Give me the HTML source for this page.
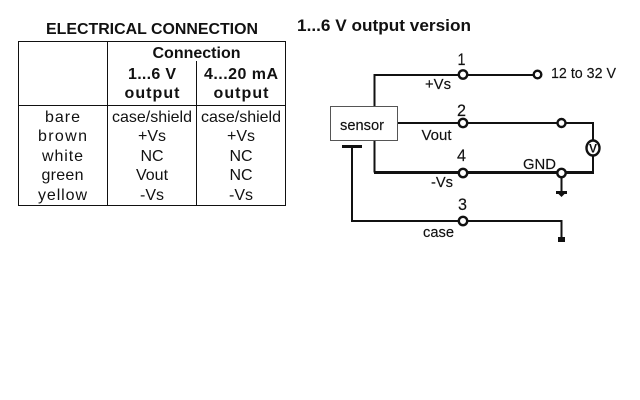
<!DOCTYPE html>
<html><head><meta charset="utf-8"><style>
html,body{margin:0;padding:0;background:#fff;width:640px;height:400px;overflow:hidden}
svg{display:block;position:absolute;left:0;top:0}
text{font-family:"Liberation Sans",sans-serif;fill:#111}
.t{font-size:16px;text-anchor:middle}
.b{font-weight:bold}
.l{font-size:15px;stroke:#111;stroke-width:.15px}
.n{font-size:17px;text-anchor:middle;stroke:#111;stroke-width:.15px}
</style></head><body>
<svg width="640" height="400" viewBox="0 0 640 400">
<text x="46" y="34" font-size="16" class="b" textLength="212" lengthAdjust="spacingAndGlyphs">ELECTRICAL CONNECTION</text>
<g stroke="#111" stroke-width="1" fill="none">
<rect x="18.5" y="41.5" width="267" height="164"/>
<path d="M107.5 41V205M196.5 61V205"/>
<path d="M18 105.5H286"/>
</g>
<text x="196.500" y="58" class="t b" textLength="88" lengthAdjust="spacingAndGlyphs">Connection</text>
<text x="152" y="79" class="t b" textLength="48" lengthAdjust="spacing">1...6 V</text>
<text x="152" y="98" class="t b" textLength="55" lengthAdjust="spacing">output</text>
<text x="241" y="79" class="t b" textLength="74" lengthAdjust="spacing">4...20 mA</text>
<text x="241" y="98" class="t b" textLength="55" lengthAdjust="spacing">output</text>

<text x="62.500" y="122" class="t" textLength="35" lengthAdjust="spacing">bare</text>
<text x="62.500" y="141" class="t" textLength="49" lengthAdjust="spacing">brown</text>
<text x="62.500" y="161" class="t" textLength="41" lengthAdjust="spacing">white</text>
<text x="62.500" y="180" class="t" textLength="42" lengthAdjust="spacing">green</text>
<text x="62.500" y="200" class="t" textLength="49" lengthAdjust="spacing">yellow</text>

<text x="152" y="122" class="t" textLength="80" lengthAdjust="spacingAndGlyphs">case/shield</text>
<text x="152" y="141" class="t">+Vs</text>
<text x="152" y="161" class="t">NC</text>
<text x="152" y="180" class="t">Vout</text>
<text x="152" y="200" class="t">-Vs</text>

<text x="241" y="122" class="t" textLength="80" lengthAdjust="spacingAndGlyphs">case/shield</text>
<text x="241" y="141" class="t">+Vs</text>
<text x="241" y="161" class="t">NC</text>
<text x="241" y="180" class="t">NC</text>
<text x="241" y="200" class="t">-Vs</text>

<text x="297" y="31" font-size="16.500" class="b" textLength="174" lengthAdjust="spacingAndGlyphs">1...6 V output version</text>

<g fill="none" stroke="#111">
<path d="M374.500 106V75H533" stroke-width="2"/>
<path d="M397 123H593V173" stroke-width="2"/>
<path d="M374.500 141V172.500" stroke-width="2"/>
<path d="M374 172.500H594" stroke-width="3"/>
<path d="M342 146.500H362" stroke-width="3"/>
<path d="M352 146V221H561.500V238" stroke-width="2"/>
<path d="M561.500 173V193" stroke-width="2"/>
<path d="M556 192.500H567" stroke-width="3"/>
</g>
<path d="M558.500 194H564.500L561.500 197Z" fill="#111"/>
<rect x="330.500" y="106.500" width="67" height="34" fill="#fff" stroke="#555" stroke-width="1"/>
<rect x="558" y="237" width="7" height="5" fill="#111"/>
<g fill="#fff" stroke="#111" stroke-width="2.400">
<circle cx="463" cy="74.500" r="4.200"/>
<circle cx="537.500" cy="74.500" r="3.800"/>
<circle cx="463" cy="123" r="4.200"/>
<circle cx="561.500" cy="123" r="4"/>
<circle cx="463" cy="173" r="4.200"/>
<circle cx="561.500" cy="173" r="4.200"/>
<circle cx="463" cy="221" r="4.200"/>
<ellipse cx="593" cy="148" rx="6.500" ry="7.500"/>
</g>
<text x="593" y="152.500" font-size="12" class="b" text-anchor="middle">V</text>

<text x="461.500" y="65" class="n" textLength="8" lengthAdjust="spacingAndGlyphs">1</text>
<text x="461.500" y="116" class="n" textLength="9" lengthAdjust="spacingAndGlyphs">2</text>
<text x="461.500" y="161" class="n" font-size="15" textLength="9" lengthAdjust="spacingAndGlyphs">4</text>
<text x="462.500" y="210" class="n" textLength="9" lengthAdjust="spacingAndGlyphs">3</text>
<text x="425" y="89" class="l" font-size="16" textLength="26" lengthAdjust="spacingAndGlyphs">+Vs</text>
<text x="421.500" y="140" class="l" textLength="30" lengthAdjust="spacingAndGlyphs">Vout</text>
<text x="431" y="187" class="l" textLength="22" lengthAdjust="spacingAndGlyphs">-Vs</text>
<text x="423" y="237" class="l" textLength="31" lengthAdjust="spacingAndGlyphs">case</text>
<text x="340" y="130" class="l" textLength="44" lengthAdjust="spacingAndGlyphs">sensor</text>
<text x="523" y="169" class="l" textLength="33" lengthAdjust="spacingAndGlyphs">GND</text>
<text x="551" y="78" class="l" textLength="65" lengthAdjust="spacingAndGlyphs">12 to 32 V</text>
</svg>
</body></html>
